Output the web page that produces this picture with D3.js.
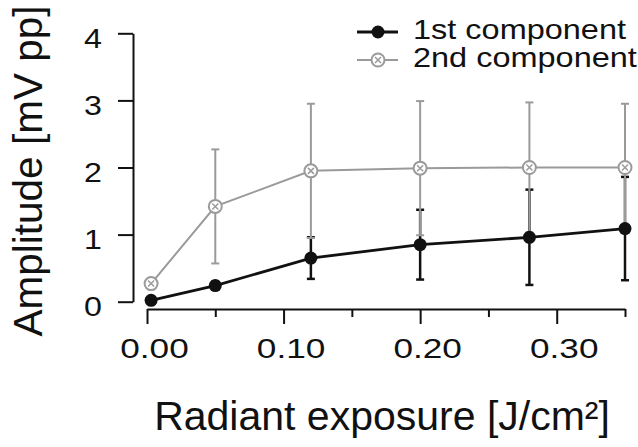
<!DOCTYPE html>
<html>
<head>
<meta charset="utf-8">
<script src="https://cdn.jsdelivr.net/npm/d3@7"></script>
<style>
  body { margin: 0; background: #fff; }
  text { font-family: "Liberation Sans", Arial, sans-serif; fill: #111; }
</style>
</head>
<body>
<script>
// data
var exposure = [0.003, 0.05, 0.12, 0.20, 0.28, 0.35];
var firstComp = [0.02, 0.24, 0.65, 0.85, 0.96, 1.09];
var firstSd = [0.02, 0.06, 0.31, 0.52, 0.71, 0.77];
var secondComp = [0.27, 1.42, 1.95, 1.99, 2.00, 2.00];
var secondSd = [0.05, 0.85, 1.00, 1.00, 0.97, 0.95];
var yTicks = [0, 1, 2, 3, 4];
var xMajor = [0, 0.10, 0.20, 0.30];
var xMinor = [0.05, 0.15, 0.25, 0.35];
var seriesNames = ["1st component", "2nd component"];

var W = 638, H = 447;
var gray = "#9a9a9a";

var svg = d3.select("body").append("svg")
    .attr("width", W)
    .attr("height", H);

var x = d3.scaleLinear().domain([0, 0.35]).range([147, 625]);
var y = d3.scaleLinear().domain([0, 4]).range([301.7, 33.3]);

// y axis
var yAx = svg.append("g")
    .attr("transform", "translate(133,0)")
    .call(d3.axisLeft(y).tickValues(yTicks).tickSize(15).tickSizeOuter(0).tickPadding(0).tickFormat(d3.format("d")));
yAx.selectAll("path, line").attr("stroke", "#111").attr("stroke-width", 2);
yAx.selectAll("text")
    .attr("font-size", 28)
    .attr("x", 0).attr("dy", "0.36em")
    .attr("transform", "translate(-31,4) scale(1.15,1)");

// x axis
var xAx = svg.append("g")
    .attr("transform", "translate(0,309)")
    .call(d3.axisBottom(x).tickValues(xMajor).tickSize(15).tickSizeOuter(0).tickPadding(0).tickFormat(d3.format(".2f")));
xAx.selectAll("path, line").attr("stroke", "#111").attr("stroke-width", 2);
xAx.selectAll("text")
    .attr("font-size", 27.5)
    .attr("y", 0).attr("dy", 0)
    .attr("transform", "translate(7,49) scale(1.28,1)");

var xMin = svg.append("g")
    .attr("transform", "translate(0,309)")
    .call(d3.axisBottom(x).tickValues(xMinor).tickSize(8).tickSizeOuter(0).tickFormat(""));
xMin.select(".domain").remove();
xMin.selectAll("line").attr("stroke", "#111").attr("stroke-width", 2);

// axis titles
svg.append("text")
    .attr("x", 382).attr("y", 430)
    .attr("text-anchor", "middle")
    .attr("font-size", 41)
    .text("Radiant exposure [J/cm²]");

svg.append("text")
    .attr("transform", "translate(42,171) rotate(-90)")
    .attr("text-anchor", "middle")
    .attr("font-size", 40.5)
    .text("Amplitude [mV pp]");

var pts1 = exposure.map(function(e, i) { return {x: e, y: firstComp[i], sd: firstSd[i]}; });
var pts2 = exposure.map(function(e, i) { return {x: e, y: secondComp[i], sd: secondSd[i]}; });

function errorBars(pts, color, width) {
    var g = svg.append("g").attr("stroke", color).attr("stroke-width", width).attr("fill", "none");
    pts.forEach(function(p) {
        g.append("line")
            .attr("x1", x(p.x)).attr("x2", x(p.x))
            .attr("y1", y(p.y - p.sd)).attr("y2", y(p.y + p.sd));
        [p.y - p.sd, p.y + p.sd].forEach(function(v) {
            g.append("line")
                .attr("x1", x(p.x) - 4).attr("x2", x(p.x) + 4)
                .attr("y1", y(v)).attr("y2", y(v));
        });
    });
}

var line = d3.line().x(function(d) { return x(d.x); }).y(function(d) { return y(d.y); });

errorBars(pts1, "#111", 2.5);
errorBars(pts2, gray, 2);

svg.append("path").datum(pts2)
    .attr("d", line)
    .attr("fill", "none").attr("stroke", gray).attr("stroke-width", 2);

function crossMarker(g, cx, cy) {
    g.append("circle").attr("cx", cx).attr("cy", cy).attr("r", 6.5)
        .attr("fill", "#fff").attr("stroke", gray).attr("stroke-width", 2);
    g.append("path")
        .attr("d", "M" + (cx - 3) + "," + (cy - 3) + "L" + (cx + 3) + "," + (cy + 3) +
                   "M" + (cx - 3) + "," + (cy + 3) + "L" + (cx + 3) + "," + (cy - 3))
        .attr("stroke", gray).attr("stroke-width", 1.5);
}

var m2 = svg.append("g");
pts2.forEach(function(p) { crossMarker(m2, x(p.x), y(p.y)); });

svg.append("path").datum(pts1)
    .attr("d", line)
    .attr("fill", "none").attr("stroke", "#111").attr("stroke-width", 2.8);

svg.append("g").selectAll("circle")
    .data(pts1)
    .join("circle")
    .attr("cx", function(d) { return x(d.x); })
    .attr("cy", function(d) { return y(d.y); })
    .attr("r", 6.5)
    .attr("fill", "#111");

// legend
var leg = svg.append("g");
leg.append("line").attr("x1", 357).attr("x2", 398).attr("y1", 32).attr("y2", 32)
    .attr("stroke", "#111").attr("stroke-width", 2.8);
leg.append("circle").attr("cx", 378).attr("cy", 32).attr("r", 6.5).attr("fill", "#111");
leg.append("line").attr("x1", 357).attr("x2", 398).attr("y1", 60).attr("y2", 60)
    .attr("stroke", gray).attr("stroke-width", 2);
crossMarker(leg, 378, 60);
seriesNames.forEach(function(n, i) {
    leg.append("text")
        .attr("font-size", 28)
        .attr("transform", "translate(413," + (38.5 + i * 28.2) + ") scale(1.16,1)")
        .text(n);
});
</script>
</body>
</html>
